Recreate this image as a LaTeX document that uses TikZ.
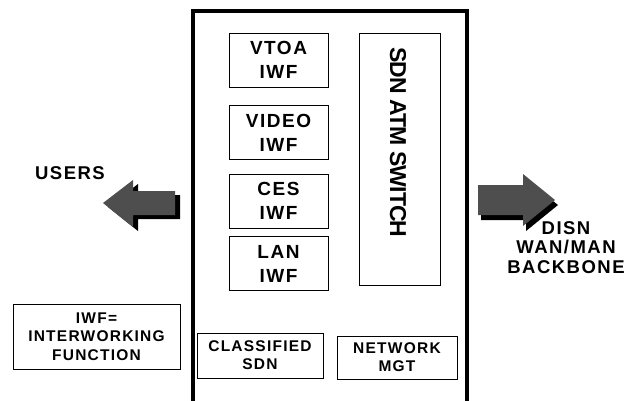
\documentclass[tikz,border=0pt]{standalone}
\usepackage{fontspec}
\setmainfont{Liberation Sans}[LetterSpace=8]
\newfontfamily\tightsans{Liberation Sans}[LetterSpace=-4]
\usetikzlibrary{positioning}
\definecolor{stipple}{RGB}{78,78,78}

\begin{document}
\begin{tikzpicture}[x=1pt, y=-1pt, every node/.style={align=center, inner sep=0pt},
  box/.style={draw, line width=1pt, minimum width=99pt, minimum height=54pt, font=\fontsize{19}{24}\selectfont\bfseries},
  small/.style={draw, line width=1pt, font=\fontsize{15.5}{18}\selectfont\bfseries},
  tag/.style={font=\fontsize{18.5}{19.5}\selectfont\bfseries},
  fat/.style={fill=stipple}]
  \useasboundingbox (0,0) rectangle (628,400);
  % terminal frame, open at the bottom
  \draw[line width=3.2pt] (193,402) |- (467,11) -- (467,402);
  % interworking functions
  \node[box] (vtoa) at (278.5,60) {VTOA\\IWF};
  \node[box] (video) at (278.5,132.5) {VIDEO\\IWF};
  \node[box] (ces) at (278.5,201) {CES\\IWF};
  \node[box] (lan) at (278.5,263.5) {LAN\\IWF};
  \node[draw, line width=1pt, minimum width=81pt, minimum height=252pt] (atm) at (399.5,159) {};
  \node[rotate=-90, font=\tightsans\fontsize{23}{23}\selectfont\bfseries] (atmtext) at (398,142.5) {SDN ATM SWITCH};
  \node[small, minimum width=126pt, minimum height=45pt] (csdn) at (260,355.5) {CLASSIFIED\\SDN};
  \node[small, minimum width=120pt, minimum height=43pt] (mgt) at (397,357.5) {NETWORK\\MGT};
  \node[small, minimum width=167pt, minimum height=65pt, font=\fontsize{15.5}{18.5}\selectfont\bfseries] (legend) at (96.5,336.5) {IWF=\\INTERWORKING\\FUNCTION};
  % outside labels
  \node[tag] (users) at (70,173) {USERS};
  \node[tag] (disn) at (566,247.5) {DISN\\WAN/MAN\\BACKBONE};
  % fat arrows with shadow
  \fill[black, shift={(5,4)}] (103,203) -- (133,180) -- (133,191) -- (175,191) -- (175,215) -- (133,215) -- (133,227) -- cycle;
  \fill[fat] (103,203) -- (133,180) -- (133,191) -- (175,191) -- (175,215) -- (133,215) -- (133,227) -- cycle;
  \fill[black, shift={(3,5)}] (555,200) -- (523,174) -- (523,185) -- (478,185) -- (478,215) -- (523,215) -- (523,226) -- cycle;
  \fill[fat] (555,200) -- (523,174) -- (523,185) -- (478,185) -- (478,215) -- (523,215) -- (523,226) -- cycle;
\end{tikzpicture}
\end{document}
